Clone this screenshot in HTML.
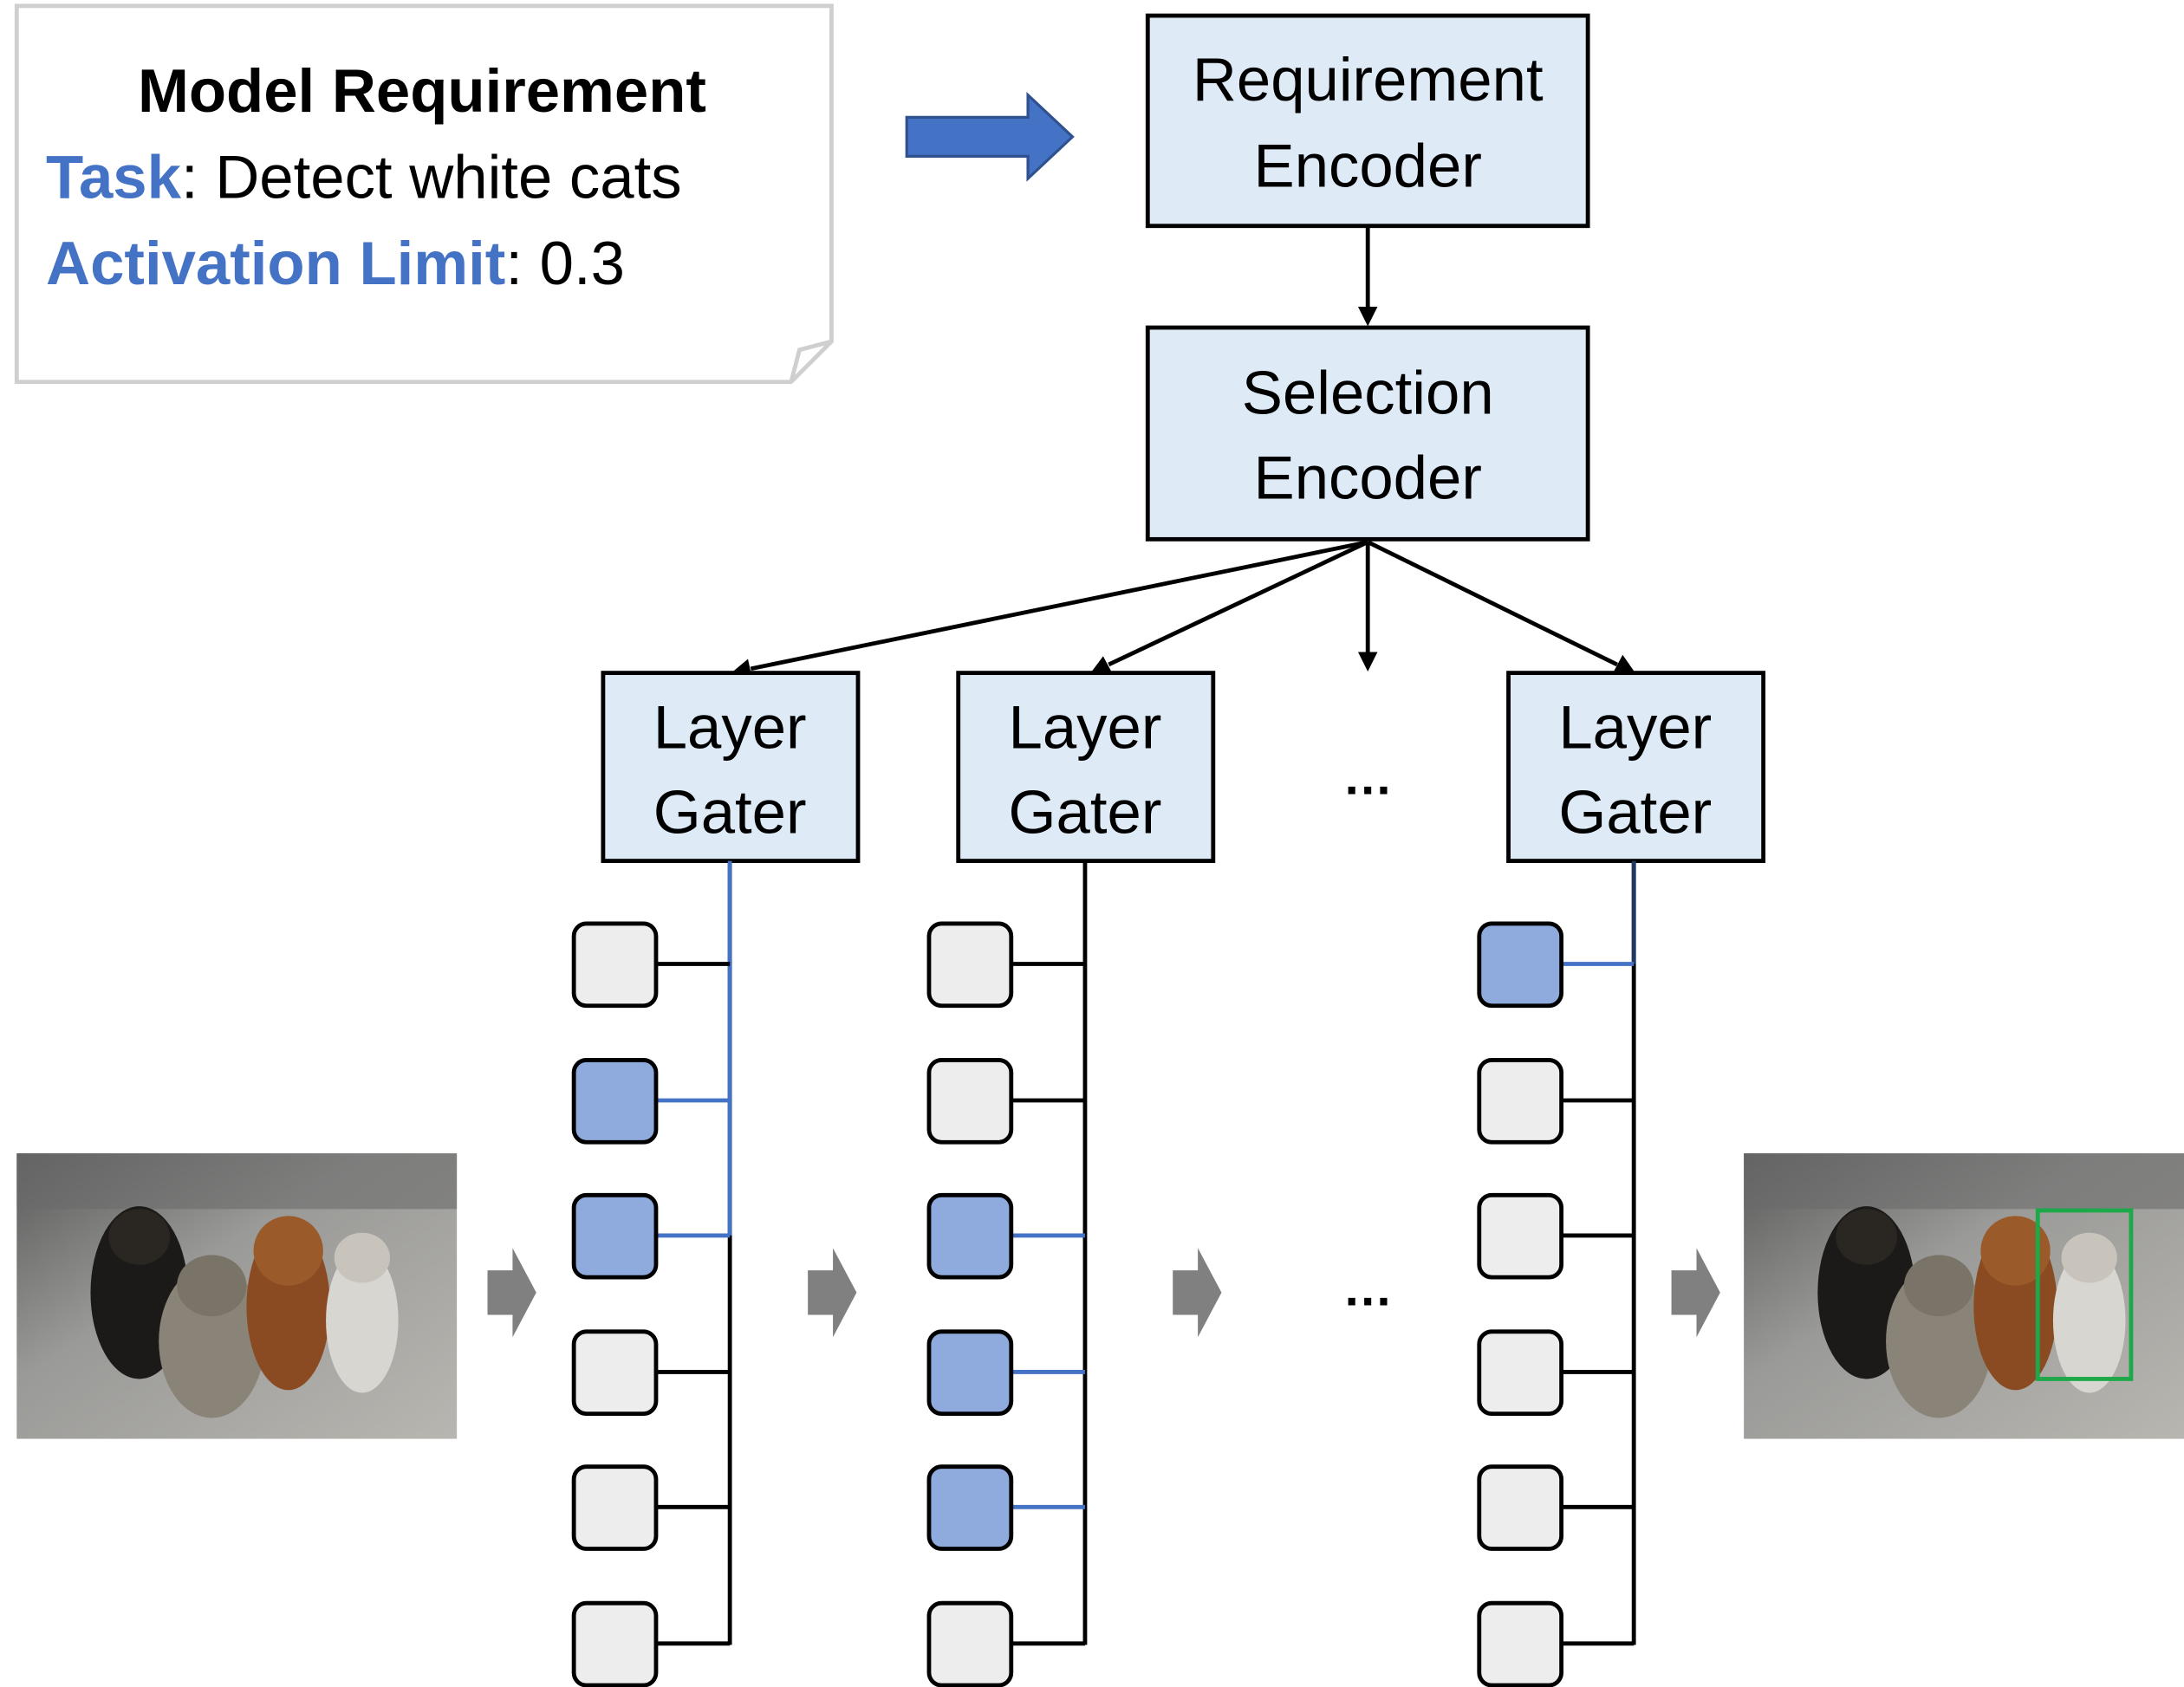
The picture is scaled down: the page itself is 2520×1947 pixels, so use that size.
<!DOCTYPE html>
<html><head><meta charset="utf-8"><style>
html,body{margin:0;padding:0;background:#fff;}
svg{display:block;}
text{font-family:"Liberation Sans",sans-serif;}
</style></head><body>
<svg width="2520" height="1947" viewBox="0 0 1568 1211" xmlns="http://www.w3.org/2000/svg">
<defs>
<linearGradient id="ph" x1="0" y1="0" x2="1" y2="1">
<stop offset="0" stop-color="#5a5a5a"/><stop offset="0.4" stop-color="#9a9a98"/><stop offset="1" stop-color="#b8b6b0"/>
</linearGradient>
<g id="pets">
<rect x="0" y="0" width="316" height="205" fill="url(#ph)"/>
<rect x="0" y="0" width="316" height="40" fill="#6b6b6b" opacity="0.6"/>
<ellipse cx="88" cy="100" rx="35" ry="62" fill="#1c1a18"/>
<ellipse cx="88" cy="60" rx="22" ry="20" fill="#2a2622"/>
<ellipse cx="140" cy="135" rx="38" ry="55" fill="#8a8378"/>
<ellipse cx="140" cy="95" rx="25" ry="22" fill="#7a7368"/>
<ellipse cx="195" cy="110" rx="30" ry="60" fill="#8a4a22"/>
<ellipse cx="195" cy="70" rx="25" ry="25" fill="#9a5a2a"/>
<ellipse cx="248" cy="120" rx="26" ry="52" fill="#d8d6d0"/>
<ellipse cx="248" cy="75" rx="20" ry="18" fill="#c8c4bc"/>
</g>
</defs>

<path d="M12 4 H597 V245 L568 274 H12 Z" fill="#fff" stroke="#cfcfcf" stroke-width="3"/>
<path d="M568 274 L574 251 L597 245" fill="none" stroke="#cfcfcf" stroke-width="3"/>
<text x="303" y="80" font-size="44" font-weight="bold" text-anchor="middle" fill="#000">Model Requirement</text>
<text x="33" y="142" font-size="44" fill="#000"><tspan fill="#4472C4" font-weight="bold">Task</tspan>: Detect white cats</text>
<text x="33" y="204" font-size="44" fill="#000"><tspan fill="#4472C4" font-weight="bold">Activation Limit</tspan>: 0.3</text>

<path d="M651 84 H738 V68 L770 98 L738 128 V112 H651 Z" fill="#4472C4" stroke="#2F528F" stroke-width="2"/>

<rect x="824" y="11" width="316" height="151" fill="#DEEBF7" stroke="#000" stroke-width="3"/>
<text x="982" y="72" font-size="44" text-anchor="middle">Requirement</text>
<text x="982" y="134" font-size="44" text-anchor="middle">Encoder</text>
<rect x="824" y="235" width="316" height="152" fill="#DEEBF7" stroke="#000" stroke-width="3"/>
<text x="982" y="297" font-size="44" text-anchor="middle">Selection</text>
<text x="982" y="358" font-size="44" text-anchor="middle">Encoder</text>

<g stroke="#000" stroke-width="3" fill="none">
<line x1="982" y1="162" x2="982" y2="222"/>
<line x1="982" y1="389" x2="539" y2="480"/>
<line x1="982" y1="389" x2="796" y2="477"/>
<line x1="982" y1="389" x2="982" y2="468"/>
<line x1="982" y1="389" x2="1161" y2="477"/>
</g>
<g fill="#000">
<path d="M982 234 L975 220 L989 220 Z"/>
<path d="M525 483 L537 473 L540 487 Z"/>
<path d="M783 483 L792 471 L799 484 Z"/>
<path d="M982 482 L975 468 L989 468 Z"/>
<path d="M1174 483 L1158 483 L1165 470 Z"/>
</g>

<g fill="#DEEBF7" stroke="#000" stroke-width="3">
<rect x="433" y="483" width="183" height="135"/>
<rect x="688" y="483" width="183" height="135"/>
<rect x="1083" y="483" width="183" height="135"/>
</g>
<g font-size="44" text-anchor="middle">
<text x="524" y="537">Layer</text><text x="524" y="598">Gater</text>
<text x="779" y="537">Layer</text><text x="779" y="598">Gater</text>
<text x="1174" y="537">Layer</text><text x="1174" y="598">Gater</text>
<text x="982" y="570" font-size="36" font-weight="bold">…</text>
<text x="982" y="937" font-size="36" font-weight="bold">…</text>
</g>

<g stroke-width="3" fill="none">
<line x1="524" y1="618" x2="524" y2="1181" stroke="#000"/>
<line x1="524" y1="618" x2="524" y2="887" stroke="#4472C4"/>
<line x1="471" y1="692" x2="524" y2="692" stroke="#000"/>
<line x1="471" y1="790" x2="524" y2="790" stroke="#4472C4"/>
<line x1="471" y1="887" x2="524" y2="887" stroke="#4472C4"/>
<line x1="471" y1="985" x2="524" y2="985" stroke="#000"/>
<line x1="471" y1="1082" x2="524" y2="1082" stroke="#000"/>
<line x1="471" y1="1180" x2="524" y2="1180" stroke="#000"/>
<line x1="779" y1="618" x2="779" y2="1181" stroke="#000"/>
<line x1="726" y1="692" x2="779" y2="692" stroke="#000"/>
<line x1="726" y1="790" x2="779" y2="790" stroke="#000"/>
<line x1="726" y1="887" x2="779" y2="887" stroke="#4472C4"/>
<line x1="726" y1="985" x2="779" y2="985" stroke="#4472C4"/>
<line x1="726" y1="1082" x2="779" y2="1082" stroke="#4472C4"/>
<line x1="726" y1="1180" x2="779" y2="1180" stroke="#000"/>
<line x1="1173" y1="618" x2="1173" y2="1181" stroke="#000"/>
<line x1="1173" y1="618" x2="1173" y2="692" stroke="#203864"/>
<line x1="1121" y1="692" x2="1173" y2="692" stroke="#4472C4"/>
<line x1="1121" y1="790" x2="1173" y2="790" stroke="#000"/>
<line x1="1121" y1="887" x2="1173" y2="887" stroke="#000"/>
<line x1="1121" y1="985" x2="1173" y2="985" stroke="#000"/>
<line x1="1121" y1="1082" x2="1173" y2="1082" stroke="#000"/>
<line x1="1121" y1="1180" x2="1173" y2="1180" stroke="#000"/>
</g>
<g stroke="#000" stroke-width="3">
<rect x="412" y="663" width="59" height="59" rx="9" fill="#EDEDED"/>
<rect x="412" y="761" width="59" height="59" rx="9" fill="#8FAADC"/>
<rect x="412" y="858" width="59" height="59" rx="9" fill="#8FAADC"/>
<rect x="412" y="956" width="59" height="59" rx="9" fill="#EDEDED"/>
<rect x="412" y="1053" width="59" height="59" rx="9" fill="#EDEDED"/>
<rect x="412" y="1151" width="59" height="59" rx="9" fill="#EDEDED"/>
<rect x="667" y="663" width="59" height="59" rx="9" fill="#EDEDED"/>
<rect x="667" y="761" width="59" height="59" rx="9" fill="#EDEDED"/>
<rect x="667" y="858" width="59" height="59" rx="9" fill="#8FAADC"/>
<rect x="667" y="956" width="59" height="59" rx="9" fill="#8FAADC"/>
<rect x="667" y="1053" width="59" height="59" rx="9" fill="#8FAADC"/>
<rect x="667" y="1151" width="59" height="59" rx="9" fill="#EDEDED"/>
<rect x="1062" y="663" width="59" height="59" rx="9" fill="#8FAADC"/>
<rect x="1062" y="761" width="59" height="59" rx="9" fill="#EDEDED"/>
<rect x="1062" y="858" width="59" height="59" rx="9" fill="#EDEDED"/>
<rect x="1062" y="956" width="59" height="59" rx="9" fill="#EDEDED"/>
<rect x="1062" y="1053" width="59" height="59" rx="9" fill="#EDEDED"/>
<rect x="1062" y="1151" width="59" height="59" rx="9" fill="#EDEDED"/>
</g>

<g fill="#808080">
<path d="M350 912 H368 V896 L385 928 L368 960 V944 H350 Z"/>
<path d="M580 912 H598 V896 L615 928 L598 960 V944 H580 Z"/>
<path d="M842 912 H860 V896 L877 928 L860 960 V944 H842 Z"/>
<path d="M1200 912 H1218 V896 L1235 928 L1218 960 V944 H1200 Z"/>
</g>

<use href="#pets" x="12" y="828"/>
<use href="#pets" x="1252" y="828"/>
<rect x="1463" y="869" width="67" height="121" fill="none" stroke="#1DA84A" stroke-width="3"/>
</svg>
</body></html>
